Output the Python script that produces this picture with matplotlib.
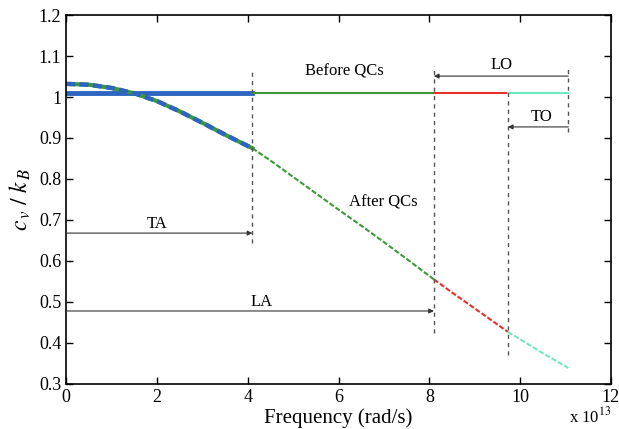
import numpy as np
import matplotlib.pyplot as plt
from matplotlib.ticker import FormatStrFormatter

# frequency boundaries (x 1e13 rad/s)
f_ta = 4.1
f_la = 8.1
f_to = 9.73
f_max = 11.06

# before QCs: flat value
cv_before = 1.01

# after QCs: values
f_after = [0.0, 0.5, 1.0, 1.5, 2.0, 2.5, 3.0, 3.5, 4.1, 4.5, 5.0, 5.5, 6.0, 6.5, 7.0, 7.5,
           8.1, 8.5, 9.0, 9.5, 9.73, 10.0, 10.5, 11.06]
cv_after = [1.032, 1.030, 1.022, 1.009, 0.990, 0.965, 0.937, 0.908, 0.875, 0.845, 0.805, 0.765,
            0.725, 0.686, 0.646, 0.605, 0.555, 0.523, 0.484, 0.445, 0.427, 0.409, 0.375, 0.339]

c_blue = '#2d64c0'
c_green = '#3a9a3a'
c_red = '#e8302c'
c_cyan = '#6fe8c0'

plt.rcParams['font.family'] = ['Liberation Serif']
plt.rcParams['mathtext.fontset'] = 'stix'

fig = plt.figure(figsize=(6.19, 4.29), dpi=100)
ax = fig.add_axes([0.107, 0.105, 0.880, 0.860])

f_after = np.array(f_after)
cv_after = np.array(cv_after)


def seg(a, b):
    m = (f_after >= a - 1e-9) & (f_after <= b + 1e-9)
    return f_after[m], cv_after[m]


# before QCs
ax.plot([0, f_ta], [cv_before, cv_before], color=c_blue, lw=3.5)
ax.plot([f_ta, f_la], [cv_before, cv_before], color=c_green, lw=1.5)
ax.plot([f_la, f_to], [cv_before, cv_before], color=c_red, lw=1.5)
ax.plot([f_to, f_max], [cv_before, cv_before], color=c_cyan, lw=1.5)

# after QCs
x, y = seg(0, f_ta)
ax.plot(x, y, color=c_green, lw=3.0)
ax.plot(x, y, color=c_blue, lw=3.2, dashes=(2.0, 1.0))
x, y = seg(f_ta, f_la)
ax.plot(x, y, color=c_green, lw=1.5, dashes=(2.5, 1.0))
x, y = seg(f_la, f_to)
ax.plot(x, y, color=c_red, lw=1.5, dashes=(2.5, 1.0))
x, y = seg(f_to, f_max)
ax.plot(x, y, color=c_cyan, lw=1.5, dashes=(2.5, 1.0))

# vertical dashed markers
vc = '#555555'
ax.plot([f_ta, f_ta], [0.643, 1.065], color=vc, lw=1.0, dashes=(3, 3))
ax.plot([f_la, f_la], [0.424, 1.075], color=vc, lw=1.0, dashes=(3, 3))
ax.plot([f_to, f_to], [0.37, 1.017], color=vc, lw=1.0, dashes=(3, 3))
ax.plot([f_max, f_max], [0.915, 1.068], color=vc, lw=1.0, dashes=(3, 3))

# arrows
ap = dict(arrowstyle='-|>', color='#333333', lw=0.8, mutation_scale=7, shrinkA=0, shrinkB=0)
ax.annotate('', xy=(f_ta, 0.668), xytext=(0, 0.668), arrowprops=ap)
ax.annotate('', xy=(f_la, 0.478), xytext=(0, 0.478), arrowprops=ap)
ax.annotate('', xy=(f_la, 1.051), xytext=(f_max, 1.051), arrowprops=ap)
ax.annotate('', xy=(f_to, 0.927), xytext=(f_max, 0.927), arrowprops=ap)

fs = 12
ax.text(2.0, 0.69, 'TA', ha='center', va='center', fontsize=fs)
ax.text(4.3, 0.50, 'LA', ha='center', va='center', fontsize=fs)
ax.text(9.6, 1.078, 'LO', ha='center', va='center', fontsize=fs)
ax.text(10.48, 0.951, 'TO', ha='center', va='center', fontsize=fs)
ax.text(6.12, 1.061, 'Before QCs', ha='center', va='center', fontsize=fs)
ax.text(6.98, 0.742, 'After QCs', ha='center', va='center', fontsize=fs)

ax.set_xlim(0, 12)
ax.set_ylim(0.3, 1.2)
ax.set_xticks(np.arange(0, 13, 2))
ax.set_yticks(np.arange(0.3, 1.21, 0.1))
ax.yaxis.set_major_formatter(FormatStrFormatter('%g'))
ax.tick_params(direction='in', top=True, right=True, labelsize=13, length=5, width=1)
for s in ax.spines.values():
    s.set_linewidth(1.2)

ax.set_xlabel('Frequency (rad/s)', fontsize=15, labelpad=2)
ax.set_ylabel(r'$c_{\,v}\ /\ k_{\,B}$', fontsize=17, labelpad=4)
ax.text(1.0, -0.103, r'x 10$^{13}$', transform=ax.transAxes, ha='right', va='baseline', fontsize=12)

fig.savefig('out.png', dpi=100)
